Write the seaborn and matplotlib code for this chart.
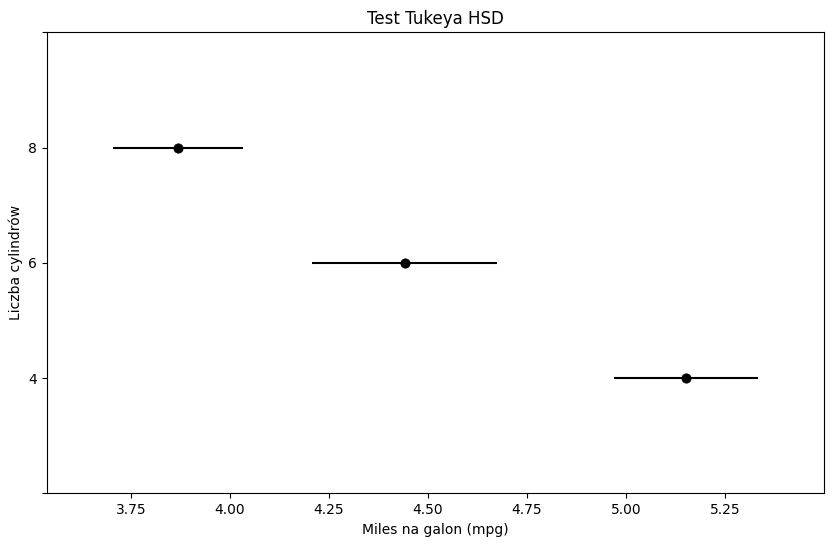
import matplotlib
matplotlib.use("Agg")
import matplotlib.pyplot as plt
import seaborn as sns
import pandas as pd

groups = [4, 6, 8]
means = [5.151, 4.441, 3.869]
lower = [4.970, 4.207, 3.705]
upper = [5.333, 4.674, 4.033]

df = pd.DataFrame({"cyl": groups, "mean": means, "lo": lower, "hi": upper})

fig, ax = plt.subplots(figsize=(8.33, 5.47), dpi=100)
fig.subplots_adjust(left=0.0565, right=0.989, top=0.941, bottom=0.098)
ax.hlines(df["cyl"], df["lo"], df["hi"], color="black", lw=1.5)
sns.scatterplot(data=df, x="mean", y="cyl", color="black", s=45, ax=ax, zorder=3, edgecolor="black")
ax.set_xlim(3.538, 5.50)
ax.set_ylim(2, 10)
ax.set_yticks([2, 4, 6, 8, 10])
ax.set_yticklabels(["", "4", "6", "8", ""])
ax.set_xticks([3.75, 4.0, 4.25, 4.5, 4.75, 5.0, 5.25])
ax.set_xlabel("Miles na galon (mpg)")
ax.set_ylabel("Liczba cylindrów")
ax.set_title("Test Tukeya HSD")
fig.savefig("out.png", dpi=100)
